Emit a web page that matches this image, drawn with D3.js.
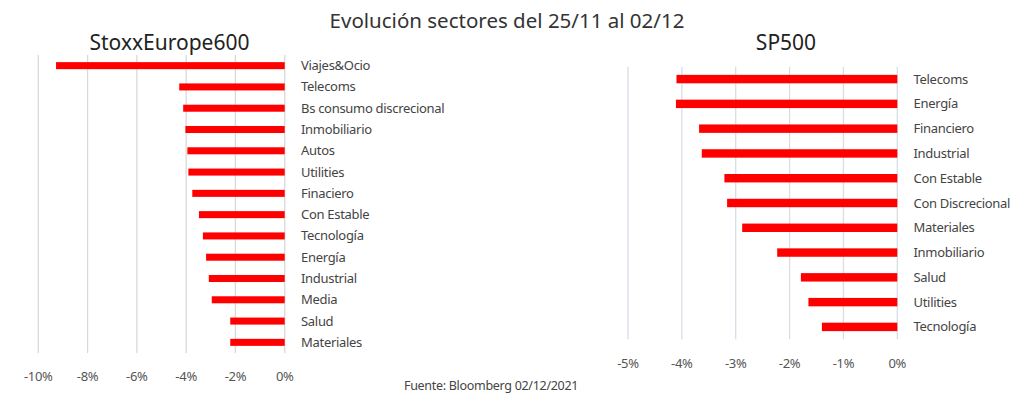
<!DOCTYPE html>
<html><head><meta charset="utf-8">
<script src="https://cdn.jsdelivr.net/npm/d3@7"></script>
<style>
html,body{margin:0;padding:0;background:#fff;}
svg{display:block;}
text{font-family:"Noto Sans",Roboto,sans-serif;}
</style></head>
<body>
<svg id="c" width="1024" height="403"></svg>
<script>
const euCategories = ["Viajes&Ocio","Telecoms","Bs consumo discrecional","Inmobiliario","Autos","Utilities","Finaciero","Con Estable","Tecnología","Energía","Industrial","Media","Salud","Materiales"];
const euValues = [-9.28,-4.28,-4.12,-4.03,-3.95,-3.91,-3.75,-3.48,-3.32,-3.19,-3.08,-2.96,-2.21,-2.21];
const euTicks = [-10,-8,-6,-4,-2,0];
const euTickLabels = ["-10%","-8%","-6%","-4%","-2%","0%"];

const usCategories = ["Telecoms","Energía","Financiero","Industrial","Con Estable","Con Discrecional","Materiales","Inmobiliario","Salud","Utilities","Tecnología"];
const usValues = [-4.10,-4.11,-3.68,-3.63,-3.21,-3.16,-2.88,-2.23,-1.79,-1.65,-1.40];
const usTicks = [-5,-4,-3,-2,-1,0];
const usTickLabels = ["-5%","-4%","-3%","-2%","-1%","0%"];

const svg = d3.select("#c");
const RED = "#ff0000";

svg.append("text").attr("x",507).attr("y",28).attr("text-anchor","middle")
  .attr("font-size",20.5).attr("fill","#333").text("Evolución sectores del 25/11 al 02/12");

function panel(o){
  const g = svg.append("g");
  const x = d3.scaleLinear().domain(o.domain).range(o.xr);
  const y = d3.scaleBand().domain(o.cats).range(o.yr).paddingInner(o.pad).paddingOuter(o.pad/2);
  g.selectAll("line.grid").data(o.ticks).join("line")
    .attr("x1",d=>x(d)).attr("x2",d=>x(d)).attr("y1",o.yr[0]).attr("y2",o.yr[1])
    .attr("stroke",o.gridColor).attr("stroke-width",1.3);
  g.selectAll("rect").data(o.vals).join("rect")
    .attr("x",d=>x(Math.min(0,d))).attr("width",d=>Math.abs(x(d)-x(0)))
    .attr("y",(d,i)=>y(o.cats[i])).attr("height",y.bandwidth())
    .attr("fill",RED);
  g.selectAll("text.cat").data(o.cats).join("text")
    .attr("x",o.labelX).attr("y",d=>y(d)+y.bandwidth()/2).attr("dy","0.35em")
    .attr("font-size",13).attr("fill","#444").attr("letter-spacing","-0.3")
    .text(d=>d);
  g.selectAll("text.tick").data(o.ticks).join("text")
    .attr("x",d=>x(d)).attr("y",o.tickY).attr("dy","0.35em").attr("text-anchor","middle")
    .attr("font-size",13).attr("fill","#555").attr("letter-spacing","-0.3")
    .text((d,i)=>o.tickLabels[i]);
  svg.append("text").attr("x",o.titleX).attr("y",50).attr("text-anchor","middle")
    .attr("font-size",21).attr("fill","#222").text(o.title);
}

panel({cats:euCategories, vals:euValues, ticks:euTicks, tickLabels:euTickLabels,
  domain:[-10,0], xr:[38.3,284.7], yr:[55,353], pad:0.67, gridColor:"#d9d9d9",
  labelX:301, tickY:376, title:"StoxxEurope600", titleX:169.5});
panel({cats:usCategories, vals:usValues, ticks:usTicks, tickLabels:usTickLabels,
  domain:[-5,0], xr:[628,897.3], yr:[66.7,339.3], pad:0.66, gridColor:"#d8dde6",
  labelX:913.5, tickY:363, title:"SP500", titleX:786});

svg.append("text").attr("x",404).attr("y",390).attr("font-size",12.5).attr("fill","#444")
  .attr("letter-spacing","-0.3").text("Fuente: Bloomberg 02/12/2021");
</script>
</body></html>
